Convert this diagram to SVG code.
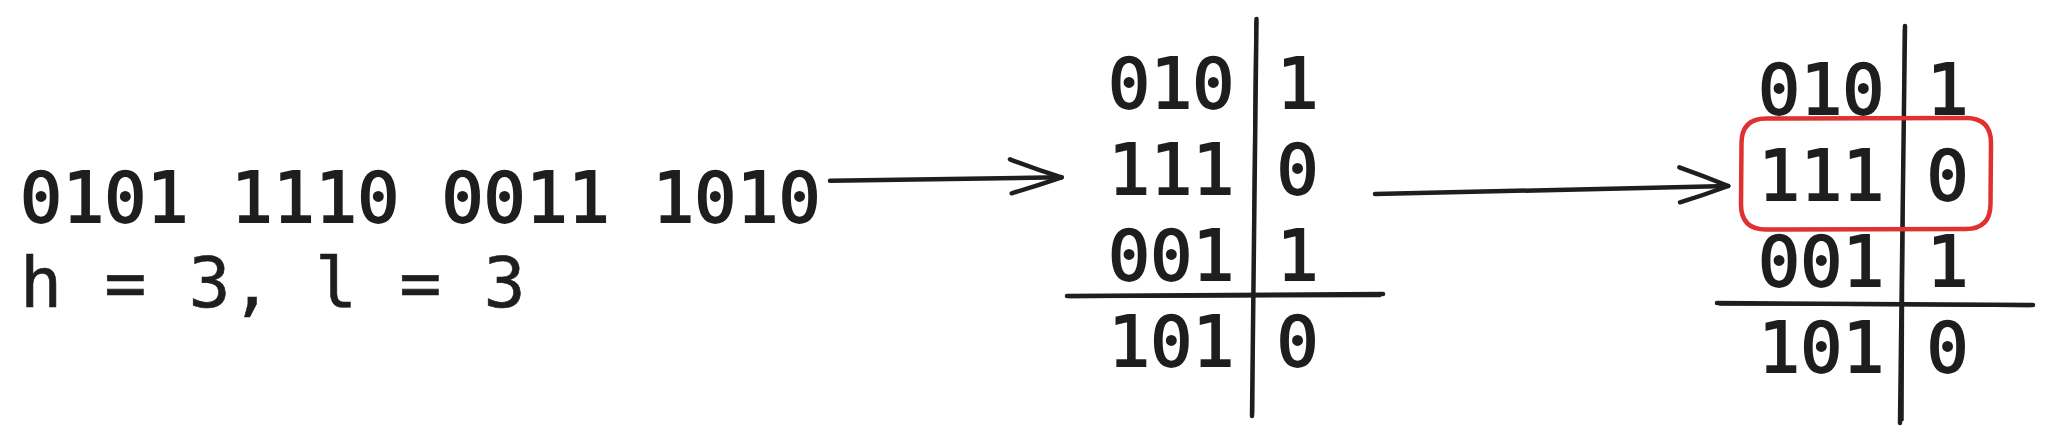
<svg xmlns="http://www.w3.org/2000/svg" width="2052" height="442" viewBox="0 0 2052 442">
  <style>
    .t { font-family: "DejaVu Sans Mono", "Liberation Mono", monospace; font-size: 70px; fill: #1e1e1e; stroke: #1e1e1e; stroke-width: 0.6; }
    .b { stroke-width: 1.8; }
    .ln { fill: none; stroke: #1e1e1e; stroke-width: 4.5; stroke-linecap: round; stroke-linejoin: round; }
    .ln2 { fill: none; stroke: #1e1e1e; stroke-width: 2.5; stroke-linecap: round; stroke-linejoin: round; }
    .hl { fill: none; stroke: #e03131; stroke-width: 4.5; stroke-linecap: round; stroke-linejoin: round; }
  </style>
  <rect width="2052" height="442" fill="#ffffff"/>

  <g id="input">
    <text class="t b" x="20" y="221.5">0101 1110 0011 1010</text>
    <text class="t" x="20" y="307">h = 3, l = 3</text>
  </g>

  <g id="table1">
    <text class="t b" x="1108" y="107.5">010 1</text>
    <text class="t b" x="1108" y="193.5">111 0</text>
    <text class="t b" x="1108" y="279.5">001 1</text>
    <text class="t b" x="1108" y="365.5">101 0</text>
    <path class="ln" d="M1256.5 19 Q1254.5 200 1252 416"/>
    <path class="ln2" d="M1255.5 22 Q1253 220 1253 413"/>
    <path class="ln" d="M1067 296 Q1220 295 1383 294"/>
    <path class="ln2" d="M1070 297 Q1230 296.5 1380 296"/>
  </g>

  <g id="table2">
    <text class="t b" x="1758" y="113.5">010 1</text>
    <text class="t b" x="1758" y="199.5">111 0</text>
    <text class="t b" x="1758" y="285.5">001 1</text>
    <text class="t b" x="1758" y="371.5">101 0</text>
    <path class="ln" d="M1905 26 Q1902.5 220 1900 423"/>
    <path class="ln2" d="M1904 30 Q1903 230 1902.5 420"/>
    <path class="ln" d="M1717 303 Q1870 303.5 2033 305"/>
    <path class="ln2" d="M1720 304.5 Q1880 304.5 2030 306"/>
  </g>

  <g id="highlight">
    <path class="hl" d="M1766 118.5 L1966 118 Q1991 118 1991 143 L1990.5 204 Q1990.5 229 1965.5 229 L1766 229.5 Q1741 229.5 1741 204.5 L1741.5 143.5 Q1741.5 118.5 1766 118.5 Z"/>
  </g>

  <g id="connectors">
    <path class="ln" d="M830 180.7 Q950 179 1061.7 177.3"/>
    <path class="ln" d="M1010 159.3 Q1035 169 1061.7 177.3 Q1036 186 1011.7 193.3"/>
    <path class="ln" d="M1375 194 Q1550 190 1728.3 186"/>
    <path class="ln" d="M1679.3 167.3 Q1704 176 1728.3 186 Q1704 195 1680 202.3"/>
  </g>
</svg>
